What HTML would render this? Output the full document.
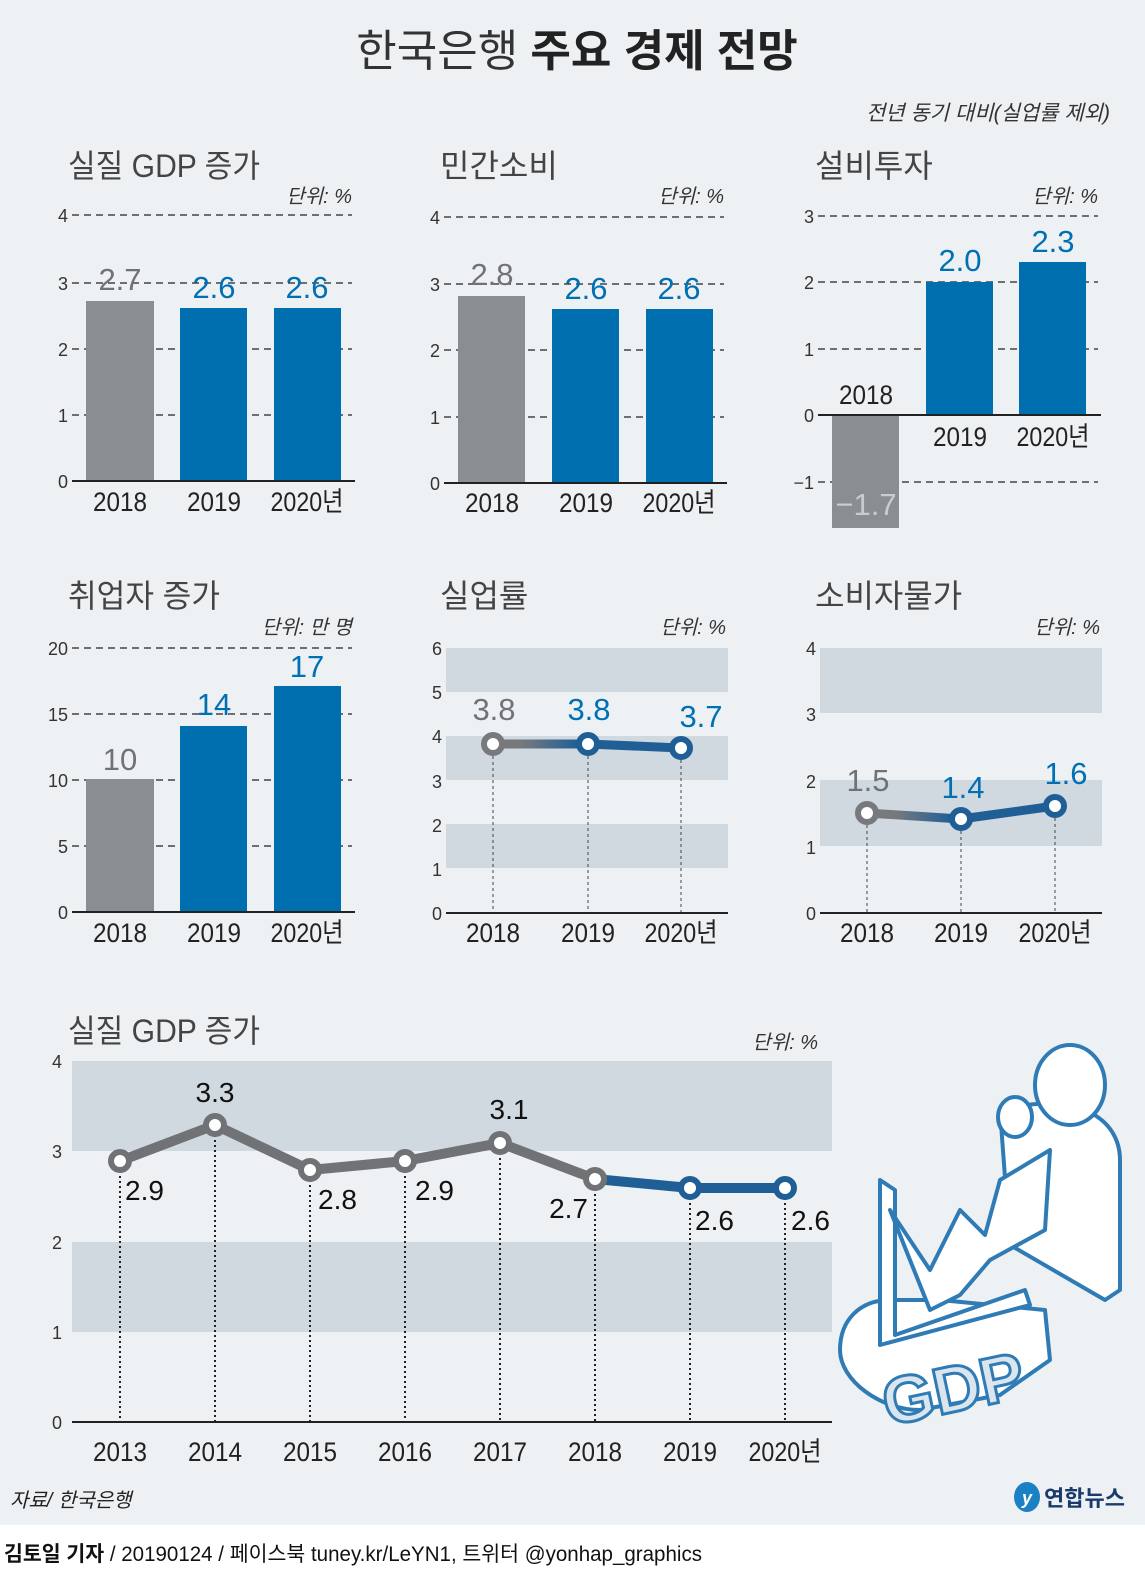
<!DOCTYPE html>
<html><head><meta charset="utf-8"><style>
html,body{margin:0;padding:0;background:#fff}
svg{display:block}
text{font-family:"Liberation Sans","Noto Sans CJK KR",sans-serif}
</style></head><body>
<svg width="1145" height="1572" viewBox="0 0 1145 1572" xmlns="http://www.w3.org/2000/svg">
<defs>
<linearGradient id="g1" x1="493" y1="0" x2="588" y2="0" gradientUnits="userSpaceOnUse"><stop offset="0.3" stop-color="#77797d"/><stop offset="0.9" stop-color="#1f5f96"/></linearGradient>
<linearGradient id="g2" x1="867" y1="0" x2="961" y2="0" gradientUnits="userSpaceOnUse"><stop offset="0.3" stop-color="#77797d"/><stop offset="0.9" stop-color="#1f5f96"/></linearGradient>
</defs>
<rect x="0" y="0" width="1145" height="1525" fill="#eef1f3"/>
<text x="577" y="66" font-size="44" text-anchor="middle" fill="#222"><tspan fill="#333">한국은행 </tspan><tspan font-weight="bold">주요 경제 전망</tspan></text>
<text x="1110" y="120" font-size="21" text-anchor="end" font-style="italic" fill="#333">전년 동기 대비(실업률 제외)</text>

<g font-size="32" fill="#444">
<text x="68" y="177" textLength="192" lengthAdjust="spacingAndGlyphs">실질 GDP 증가</text>
<text x="440" y="177">민간소비</text>
<text x="815" y="177">설비투자</text>
<text x="68" y="607" textLength="152" lengthAdjust="spacingAndGlyphs">취업자 증가</text>
<text x="440" y="607">실업률</text>
<text x="815" y="607">소비자물가</text>
<text x="68" y="1042" textLength="192" lengthAdjust="spacingAndGlyphs">실질 GDP 증가</text>
</g>
<g font-size="20" font-style="italic" fill="#333" text-anchor="end">
<text x="352" y="203">단위: %</text>
<text x="724" y="203">단위: %</text>
<text x="1098" y="203">단위: %</text>
<text x="352" y="634">단위: 만 명</text>
<text x="726" y="634">단위: %</text>
<text x="1100" y="634">단위: %</text>
<text x="818" y="1049">단위: %</text>
</g>

<!-- Panel 1 -->
<g stroke="#222" stroke-width="1.2" stroke-dasharray="7,5">
<line x1="72" y1="215" x2="352" y2="215"/><line x1="72" y1="283" x2="352" y2="283"/><line x1="72" y1="349" x2="352" y2="349"/><line x1="72" y1="415" x2="352" y2="415"/>
</g>
<rect x="86" y="301" width="68" height="180" fill="#8a8d91"/>
<rect x="180" y="308" width="67" height="173" fill="#006fb0"/>
<rect x="274" y="308" width="67" height="173" fill="#006fb0"/>
<line x1="72" y1="481" x2="355" y2="481" stroke="#222" stroke-width="2"/>
<g font-size="18" fill="#333" text-anchor="end"><text x="68" y="222">4</text><text x="68" y="290">3</text><text x="68" y="356">2</text><text x="68" y="422">1</text><text x="68" y="488">0</text></g>
<g font-size="27" fill="#222" text-anchor="middle"><text x="120" y="511" textLength="54" lengthAdjust="spacingAndGlyphs">2018</text><text x="214" y="511" textLength="54" lengthAdjust="spacingAndGlyphs">2019</text><text x="307" y="511" textLength="73" lengthAdjust="spacingAndGlyphs">2020년</text></g>
<g font-size="31" text-anchor="middle"><text x="120" y="290" fill="#707276">2.7</text><text x="214" y="298" fill="#0070b5">2.6</text><text x="307" y="298" fill="#0070b5">2.6</text></g>

<!-- Panel 2 -->
<g stroke="#222" stroke-width="1.2" stroke-dasharray="7,5">
<line x1="444" y1="217" x2="724" y2="217"/><line x1="444" y1="284" x2="724" y2="284"/><line x1="444" y1="350" x2="724" y2="350"/><line x1="444" y1="417" x2="724" y2="417"/>
</g>
<rect x="458" y="296" width="67" height="187" fill="#8a8d91"/>
<rect x="552" y="309" width="67" height="174" fill="#006fb0"/>
<rect x="646" y="309" width="67" height="174" fill="#006fb0"/>
<line x1="444" y1="483" x2="727" y2="483" stroke="#222" stroke-width="2"/>
<g font-size="18" fill="#333" text-anchor="end"><text x="440" y="224">4</text><text x="440" y="291">3</text><text x="440" y="357">2</text><text x="440" y="424">1</text><text x="440" y="490">0</text></g>
<g font-size="27" fill="#222" text-anchor="middle"><text x="492" y="512" textLength="54" lengthAdjust="spacingAndGlyphs">2018</text><text x="586" y="512" textLength="54" lengthAdjust="spacingAndGlyphs">2019</text><text x="679" y="512" textLength="73" lengthAdjust="spacingAndGlyphs">2020년</text></g>
<g font-size="31" text-anchor="middle"><text x="492" y="285" fill="#707276">2.8</text><text x="586" y="299" fill="#0070b5">2.6</text><text x="679" y="299" fill="#0070b5">2.6</text></g>

<!-- Panel 3 -->
<g stroke="#222" stroke-width="1.2" stroke-dasharray="7,5">
<line x1="818" y1="216" x2="1098" y2="216"/><line x1="818" y1="282" x2="1098" y2="282"/><line x1="818" y1="349" x2="1098" y2="349"/><line x1="818" y1="482" x2="1098" y2="482"/>
</g>
<rect x="832" y="415" width="67" height="113" fill="#8a8d91"/>
<rect x="926" y="282" width="67" height="133" fill="#006fb0"/>
<rect x="1019" y="262" width="67" height="153" fill="#006fb0"/>
<line x1="818" y1="415" x2="1101" y2="415" stroke="#222" stroke-width="2"/>
<g font-size="18" fill="#333" text-anchor="end"><text x="814" y="223">3</text><text x="814" y="289">2</text><text x="814" y="356">1</text><text x="814" y="422">0</text><text x="814" y="489">−1</text></g>
<g font-size="27" fill="#222" text-anchor="middle"><text x="866" y="404" textLength="54" lengthAdjust="spacingAndGlyphs">2018</text><text x="960" y="446" textLength="54" lengthAdjust="spacingAndGlyphs">2019</text><text x="1053" y="446" textLength="73" lengthAdjust="spacingAndGlyphs">2020년</text></g>
<g font-size="31" text-anchor="middle"><text x="866" y="515" fill="#c8cbcf">−1.7</text><text x="960" y="271" fill="#0070b5">2.0</text><text x="1053" y="252" fill="#0070b5">2.3</text></g>

<!-- Panel 4 -->
<g stroke="#222" stroke-width="1.2" stroke-dasharray="7,5">
<line x1="72" y1="648" x2="352" y2="648"/><line x1="72" y1="714" x2="352" y2="714"/><line x1="72" y1="780" x2="352" y2="780"/><line x1="72" y1="846" x2="352" y2="846"/>
</g>
<rect x="86" y="779" width="68" height="133" fill="#8a8d91"/>
<rect x="180" y="726" width="67" height="186" fill="#006fb0"/>
<rect x="274" y="686" width="67" height="226" fill="#006fb0"/>
<line x1="72" y1="912" x2="355" y2="912" stroke="#222" stroke-width="2"/>
<g font-size="18" fill="#333" text-anchor="end"><text x="68" y="655">20</text><text x="68" y="721">15</text><text x="68" y="787">10</text><text x="68" y="853">5</text><text x="68" y="919">0</text></g>
<g font-size="27" fill="#222" text-anchor="middle"><text x="120" y="942" textLength="54" lengthAdjust="spacingAndGlyphs">2018</text><text x="214" y="942" textLength="54" lengthAdjust="spacingAndGlyphs">2019</text><text x="307" y="942" textLength="73" lengthAdjust="spacingAndGlyphs">2020년</text></g>
<g font-size="31" text-anchor="middle"><text x="120" y="770" fill="#707276">10</text><text x="214" y="715" fill="#0070b5">14</text><text x="307" y="677" fill="#0070b5">17</text></g>

<!-- Panel 5 -->
<rect x="446" y="648" width="282" height="44" fill="#d1d9e0"/>
<rect x="446" y="736" width="282" height="44" fill="#d1d9e0"/>
<rect x="446" y="824" width="282" height="44" fill="#d1d9e0"/>
<g stroke="#444" stroke-width="1" stroke-dasharray="3,3"><line x1="493" y1="744" x2="493" y2="912"/><line x1="588" y1="744" x2="588" y2="912"/><line x1="681" y1="748" x2="681" y2="912"/></g>
<line x1="446" y1="913" x2="728" y2="913" stroke="#222" stroke-width="2"/>
<polyline points="493,744 588,744" fill="none" stroke="url(#g1)" stroke-width="9"/>
<polyline points="588,744 681,748" fill="none" stroke="#1f5f96" stroke-width="9"/>
<circle cx="493" cy="744" r="9" fill="#fff" stroke="#77797d" stroke-width="6"/>
<circle cx="588" cy="744" r="9" fill="#fff" stroke="#1f5f96" stroke-width="6"/>
<circle cx="681" cy="748" r="9" fill="#fff" stroke="#1f5f96" stroke-width="6"/>
<g font-size="18" fill="#333" text-anchor="end"><text x="442" y="655">6</text><text x="442" y="699">5</text><text x="442" y="743">4</text><text x="442" y="788">3</text><text x="442" y="832">2</text><text x="442" y="876">1</text><text x="442" y="920">0</text></g>
<g font-size="27" fill="#222" text-anchor="middle"><text x="493" y="942" textLength="54" lengthAdjust="spacingAndGlyphs">2018</text><text x="588" y="942" textLength="54" lengthAdjust="spacingAndGlyphs">2019</text><text x="681" y="942" textLength="73" lengthAdjust="spacingAndGlyphs">2020년</text></g>
<g font-size="31" text-anchor="middle"><text x="494" y="720" fill="#707276">3.8</text><text x="589" y="720" fill="#0070b5">3.8</text><text x="701" y="727" fill="#0070b5">3.7</text></g>

<!-- Panel 6 -->
<rect x="820" y="648" width="282" height="65" fill="#d1d9e0"/>
<rect x="820" y="780" width="282" height="66" fill="#d1d9e0"/>
<g stroke="#444" stroke-width="1" stroke-dasharray="3,3"><line x1="867" y1="813" x2="867" y2="912"/><line x1="961" y1="819" x2="961" y2="912"/><line x1="1055" y1="806" x2="1055" y2="912"/></g>
<line x1="820" y1="913" x2="1102" y2="913" stroke="#222" stroke-width="2"/>
<polyline points="867,813 961,819" fill="none" stroke="url(#g2)" stroke-width="9"/>
<polyline points="961,819 1055,806" fill="none" stroke="#1f5f96" stroke-width="9"/>
<circle cx="867" cy="813" r="9" fill="#fff" stroke="#77797d" stroke-width="6"/>
<circle cx="961" cy="819" r="9" fill="#fff" stroke="#1f5f96" stroke-width="6"/>
<circle cx="1055" cy="806" r="9" fill="#fff" stroke="#1f5f96" stroke-width="6"/>
<g font-size="18" fill="#333" text-anchor="end"><text x="816" y="655">4</text><text x="816" y="721">3</text><text x="816" y="788">2</text><text x="816" y="854">1</text><text x="816" y="920">0</text></g>
<g font-size="27" fill="#222" text-anchor="middle"><text x="867" y="942" textLength="54" lengthAdjust="spacingAndGlyphs">2018</text><text x="961" y="942" textLength="54" lengthAdjust="spacingAndGlyphs">2019</text><text x="1055" y="942" textLength="73" lengthAdjust="spacingAndGlyphs">2020년</text></g>
<g font-size="31" text-anchor="middle"><text x="868" y="791" fill="#707276">1.5</text><text x="963" y="798" fill="#0070b5">1.4</text><text x="1066" y="784" fill="#0070b5">1.6</text></g>

<!-- Bottom chart -->
<rect x="72" y="1061" width="760" height="90" fill="#d1d9e0"/>
<rect x="72" y="1242" width="760" height="90" fill="#d1d9e0"/>
<g stroke="#222" stroke-width="2" stroke-dasharray="2,3">
<line x1="120" y1="1161" x2="120" y2="1421"/><line x1="215" y1="1125" x2="215" y2="1421"/><line x1="310" y1="1170" x2="310" y2="1421"/><line x1="405" y1="1161" x2="405" y2="1421"/><line x1="500" y1="1143" x2="500" y2="1421"/><line x1="595" y1="1179" x2="595" y2="1421"/><line x1="690" y1="1188" x2="690" y2="1421"/><line x1="785" y1="1188" x2="785" y2="1421"/>
</g>
<line x1="72" y1="1422" x2="832" y2="1422" stroke="#222" stroke-width="2"/>
<polyline points="120,1161 215,1125 310,1170 405,1161 500,1143 595,1179" fill="none" stroke="#707276" stroke-width="10" stroke-linejoin="round"/>
<polyline points="595,1179 690,1188 785,1188" fill="none" stroke="#1f5f96" stroke-width="10"/>
<g fill="#fff" stroke-width="6">
<circle cx="120" cy="1161" r="9" stroke="#707276"/><circle cx="215" cy="1125" r="9" stroke="#707276"/><circle cx="310" cy="1170" r="9" stroke="#707276"/><circle cx="405" cy="1161" r="9" stroke="#707276"/><circle cx="500" cy="1143" r="9" stroke="#707276"/><circle cx="595" cy="1179" r="9" stroke="#707276"/><circle cx="690" cy="1188" r="9" stroke="#1f5f96"/><circle cx="785" cy="1188" r="9" stroke="#1f5f96"/>
</g>
<g font-size="18" fill="#333" text-anchor="end"><text x="62" y="1068">4</text><text x="62" y="1158">3</text><text x="62" y="1249">2</text><text x="62" y="1339">1</text><text x="62" y="1429">0</text></g>
<g font-size="27" fill="#222" text-anchor="middle"><text x="120" y="1461" textLength="54" lengthAdjust="spacingAndGlyphs">2013</text><text x="215" y="1461" textLength="54" lengthAdjust="spacingAndGlyphs">2014</text><text x="310" y="1461" textLength="54" lengthAdjust="spacingAndGlyphs">2015</text><text x="405" y="1461" textLength="54" lengthAdjust="spacingAndGlyphs">2016</text><text x="500" y="1461" textLength="54" lengthAdjust="spacingAndGlyphs">2017</text><text x="595" y="1461" textLength="54" lengthAdjust="spacingAndGlyphs">2018</text><text x="690" y="1461" textLength="54" lengthAdjust="spacingAndGlyphs">2019</text><text x="785" y="1461" textLength="73" lengthAdjust="spacingAndGlyphs">2020년</text></g>
<g font-size="28" fill="#111">
<text x="125" y="1200">2.9</text><text x="215" y="1102" text-anchor="middle">3.3</text><text x="318" y="1209">2.8</text><text x="415" y="1200">2.9</text><text x="509" y="1119" text-anchor="middle">3.1</text><text x="588" y="1218" text-anchor="end">2.7</text><text x="695" y="1230">2.6</text><text x="791" y="1230">2.6</text>
</g>

<!-- Illustration -->
<g fill="#fff" stroke="#2f7bb6" stroke-width="4" stroke-linejoin="round">
<path d="M1000,1110 C1080,1090 1120,1120 1120,1160 L1120,1290 L1105,1300 L1010,1245 Z"/>
<ellipse cx="1070" cy="1085" rx="35" ry="40"/>
<ellipse cx="1015" cy="1117" rx="17" ry="20"/>
<path d="M890,1300 C860,1300 840,1320 840,1350 C840,1380 880,1410 920,1410 L1000,1395 L1050,1360 L1045,1310 L940,1300 Z"/>
<path d="M880,1180 L895,1190 L895,1335 L1025,1290 L1030,1305 L880,1345 Z"/>
<path d="M890,1210 L930,1270 L960,1210 L985,1235 L1000,1180 L1050,1150 L1045,1230 L990,1260 L960,1295 L930,1310 Z"/>
</g>
<g font-size="66" font-weight="bold" fill="#dbe5ee" stroke="#2f7bb6" stroke-width="3"><text x="880" y="1410" transform="rotate(-12 960 1380)">GDP</text></g>

<!-- footer -->
<text x="10" y="1507" font-size="20" font-style="italic" fill="#222">자료/ 한국은행</text>
<ellipse cx="1027" cy="1497" rx="13" ry="15" fill="#1b80c4"/>
<text x="1027" y="1504" font-size="18" font-style="italic" font-weight="bold" fill="#fff" text-anchor="middle">y</text>
<text x="1044" y="1506" font-size="22" font-weight="bold" fill="#1a3a6c">연합뉴스</text>
<text x="4" y="1561" font-size="21" fill="#111" textLength="698" lengthAdjust="spacingAndGlyphs"><tspan font-weight="bold">김토일 기자</tspan> / 20190124 / 페이스북 tuney.kr/LeYN1, 트위터 @yonhap_graphics</text>
</svg>
</body></html>
